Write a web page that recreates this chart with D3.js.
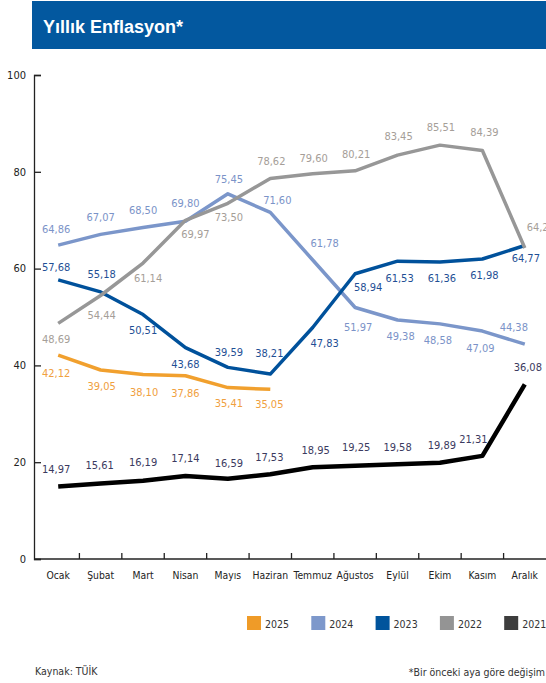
<!DOCTYPE html>
<html><head><meta charset="utf-8">
<script src="https://cdn.jsdelivr.net/npm/d3@7"></script>
<style>
body{margin:0;background:#fff}
svg{display:block}
text{font-family:"Liberation Sans Narrow","DejaVu Sans Condensed","Arial Narrow",sans-serif}
</style>
</head><body>
<svg id="chart" width="546" height="683"></svg>
<script>
// Yıllık enflasyon (%), aylara göre
const months = ["Ocak","Şubat","Mart","Nisan","Mayıs","Haziran","Temmuz","Ağustos","Eylül","Ekim","Kasım","Aralık"];
const yTicks = [0, 20, 40, 60, 80, 100];
const years = ["2025", "2024", "2023", "2022", "2021"];
const inf2025 = [42.12, 39.05, 38.10, 37.86, 35.41, 35.05];
const inf2024 = [64.86, 67.07, 68.50, 69.80, 75.45, 71.60, 61.78, 51.97, 49.38, 48.58, 47.09, 44.38];
const inf2023 = [57.68, 55.18, 50.51, 43.68, 39.59, 38.21, 47.83, 58.94, 61.53, 61.36, 61.98, 64.77];
const inf2022 = [48.69, 54.44, 61.14, 69.97, 73.50, 78.62, 79.60, 80.21, 83.45, 85.51, 84.39, 64.27];
const inf2021 = [14.97, 15.61, 16.19, 17.14, 16.59, 17.53, 18.95, 19.25, 19.58, 19.89, 21.31, 36.08];

// Görünüm ayarları: renkler ve etiket kaydırmaları (nokta merkezine göre dx, dy)
const style = {
  "2025": {line: "#f1a02e", label: "#f0a040", width: 3.5, values: inf2025,
    offsets: [[-2,18],[1,16],[1,18],[0,17],[1,16],[-1,15]]},
  "2024": {line: "#7b96ca", label: "#7b93c8", width: 3.5, values: inf2024,
    offsets: [[-2,-16],[0,-17],[0,-17],[0,-18],[1,-15],[7,-12],[12,-17],[3,20],[3,16],[-2,16],[-2,17],[-11,-17]]},
  "2023": {line: "#00519b", label: "#1f4f95", width: 3.5, values: inf2023,
    offsets: [[-2,-13],[1,-18],[0,16],[0,17],[1,-15],[-1,-21],[12,16],[13,13],[2,17],[2,16],[2,16],[1,13]]},
  "2022": {line: "#979797", label: "#a59e98", width: 3.5, values: inf2022,
    offsets: [[-2,16],[1,20],[5,15],[10,14],[1,14],[1,-17],[1,-16],[1,-17],[1,-19],[1,-18],[2,-18],[16,-21]]},
  "2021": {line: "#000000", label: "#3b3a60", width: 4.5, values: inf2021,
    offsets: [[-2,-17],[-1,-18],[0,-18],[0,-18],[1,-16],[-1,-17],[3,-17],[1,-19],[0,-17],[2,-18],[-9,-17],[3,-17]]}
};
const legendColors = {"2025":"#ef9b28","2024":"#7d98cb","2023":"#00549c","2022":"#949494","2021":"#3d3d3d"};

const svg = d3.select("#chart");

// Başlık şeridi
svg.append("rect").attr("x", 32).attr("y", 1).attr("width", 514).attr("height", 48).attr("fill", "#03589f");
svg.append("text").attr("x", 43).attr("y", 33).text("Yıllık Enflasyon*")
  .style("font-family", "'Liberation Sans',Arial,sans-serif")
  .attr("font-size", 18).attr("font-weight", "bold").attr("fill", "#fff");

// Ölçekler
const x = d3.scaleBand().domain(months).range([37, 546]).paddingInner(0).paddingOuter(0);
const xc = m => x(m) + x.bandwidth() / 2;
const y = d3.scaleLinear().domain([0, 100]).range([559, 75]);

// Y ekseni
const yAxis = d3.axisRight(y).tickValues(yTicks).tickSize(7).tickFormat("");
const gy = svg.append("g").attr("transform", "translate(34,0)").call(yAxis);
gy.select(".domain").attr("stroke", "#222").attr("stroke-width", 1.3);
gy.selectAll(".tick line").attr("stroke", "#222").attr("stroke-width", 1.3);
svg.append("g").selectAll("text").data(yTicks).join("text")
  .attr("x", 26).attr("y", d => y(d)).attr("dy", "0.35em").attr("text-anchor", "end")
  .attr("font-size", 11).attr("fill", "#222").text(d => d);

// X ekseni: bölme çizgileri ay sınırlarında, içe doğru
svg.append("line").attr("x1", 34).attr("x2", 546).attr("y1", y(0)).attr("y2", y(0))
  .attr("stroke", "#222").attr("stroke-width", 1.3);
svg.append("g").selectAll("line").data(months.slice(1)).join("line")
  .attr("x1", d => x(d)).attr("x2", d => x(d)).attr("y1", y(0)).attr("y2", y(0) - 6)
  .attr("stroke", "#222").attr("stroke-width", 1.3);
svg.append("g").selectAll("text").data(months).join("text")
  .attr("x", d => xc(d)).attr("y", 575).attr("dy", "0.35em").attr("text-anchor", "middle")
  .attr("font-size", 10.3).attr("fill", "#222").text(d => d);

// Çizgiler
const line = d3.line().x((d, i) => xc(months[i])).y(d => y(d));
const drawOrder = ["2024", "2023", "2022", "2025", "2021"];
drawOrder.forEach(yr => {
  const s = style[yr];
  svg.append("path").datum(s.values).attr("d", line)
    .attr("fill", "none").attr("stroke", s.line).attr("stroke-width", s.width)
    .attr("stroke-linejoin", "round");
});

// Değer etiketleri
const fmt = v => d3.format(".2f")(v).replace(".", ",");
years.forEach(yr => {
  const s = style[yr];
  svg.append("g").selectAll("text").data(s.values).join("text")
    .attr("x", (d, i) => xc(months[i]) + s.offsets[i][0])
    .attr("y", (d, i) => y(d) + s.offsets[i][1])
    .attr("dy", "0.35em").attr("text-anchor", "middle")
    .attr("font-size", 11).attr("fill", s.label).text(fmt);
});

// Lejant
const lg = svg.append("g").selectAll("g").data(years).join("g")
  .attr("transform", (d, i) => `translate(${247 + i * 64.3},616)`);
lg.append("rect").attr("width", 14).attr("height", 14).attr("fill", d => legendColors[d]);
lg.append("text").attr("x", 18).attr("y", 11.5).attr("font-size", 10.5).attr("fill", "#333").text(d => d);

// Dipnotlar
svg.append("text").attr("x", 35).attr("y", 675).attr("font-size", 10.5).attr("fill", "#333").text("Kaynak: TÜİK");
svg.append("text").attr("x", 545).attr("y", 676).attr("text-anchor", "end").attr("font-size", 10.5)
  .attr("fill", "#333").text("*Bir önceki aya göre değişim");
</script>
</body></html>
